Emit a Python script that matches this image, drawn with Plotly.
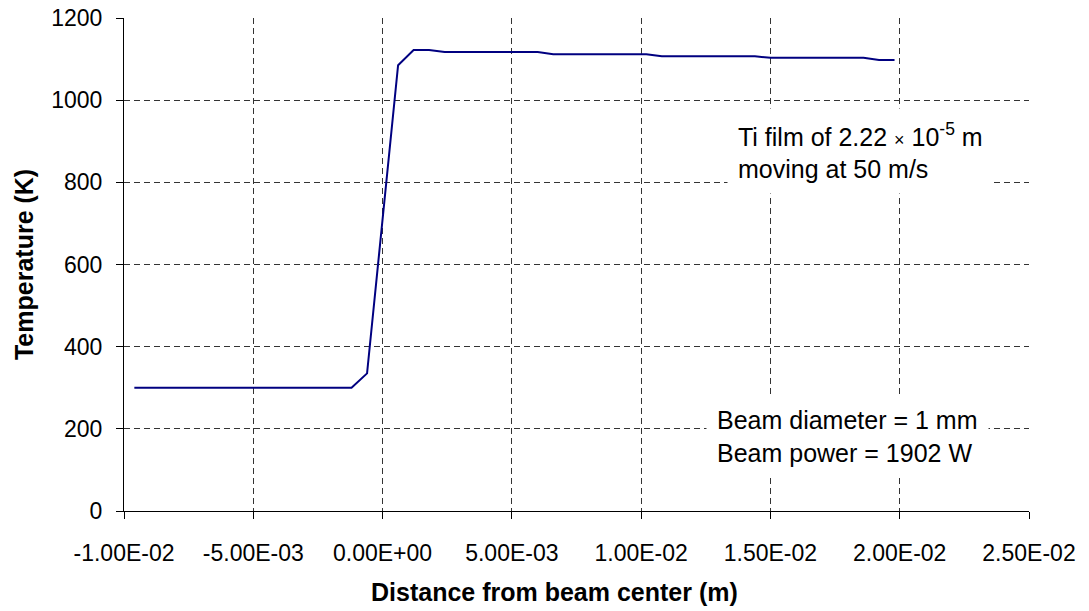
import plotly.graph_objects as go

# Position along the film (m), sampled every 0.6 mm
distance_m = [
    -9.6e-3, -9.0e-3, -8.4e-3, -7.8e-3, -7.2e-3, -6.6e-3, -6.0e-3, -5.4e-3,
    -4.8e-3, -4.2e-3, -3.6e-3, -3.0e-3, -2.4e-3, -1.8e-3, -1.2e-3, -0.6e-3,
    0.0, 0.6e-3, 1.2e-3, 1.8e-3, 2.4e-3, 3.0e-3, 3.6e-3, 4.2e-3, 4.8e-3,
    5.4e-3, 6.0e-3, 6.6e-3, 7.2e-3, 7.8e-3, 8.4e-3, 9.0e-3, 9.6e-3, 10.2e-3,
    10.8e-3, 11.4e-3, 12.0e-3, 12.6e-3, 13.2e-3, 13.8e-3, 14.4e-3, 15.0e-3,
    15.6e-3, 16.2e-3, 16.8e-3, 17.4e-3, 18.0e-3, 18.6e-3, 19.2e-3, 19.8e-3,
]

# Temperature of the film at each position (K)
temperature_k = [
    300, 300, 300, 300, 300, 300, 300, 300,
    300, 300, 300, 300, 300, 300, 300, 335,
    715, 1085, 1122, 1122, 1117, 1117, 1117, 1117, 1117,
    1117, 1117, 1112, 1112, 1112, 1112, 1112, 1112, 1112,
    1107, 1107, 1107, 1107, 1107, 1107, 1107, 1103,
    1103, 1103, 1103, 1103, 1103, 1103, 1098, 1098,
]

x_tick_values = [-1.0e-2, -5.0e-3, 0.0, 5.0e-3, 1.0e-2, 1.5e-2, 2.0e-2, 2.5e-2]
x_tick_labels = ["-1.00E-02", "-5.00E-03", "0.00E+00", "5.00E-03",
                 "1.00E-02", "1.50E-02", "2.00E-02", "2.50E-02"]
y_tick_values = [0, 200, 400, 600, 800, 1000, 1200]

FONT = "Liberation Sans, Arial, sans-serif"
GRID = dict(showgrid=True, gridcolor="#333333", gridwidth=1, griddash="6px,4px")

fig = go.Figure()
fig.add_trace(go.Scatter(
    x=distance_m, y=temperature_k, mode="lines",
    line=dict(color="#000080", width=2), showlegend=False,
))

fig.update_layout(
    width=1089, height=611,
    margin=dict(l=124, r=60, t=18, b=100),
    paper_bgcolor="white", plot_bgcolor="white",
    font=dict(family=FONT, size=23, color="black"),
    xaxis=dict(
        range=[-1.0e-2, 2.5e-2], tickvals=x_tick_values, ticktext=x_tick_labels,
        ticks="outside", ticklen=7, tickcolor="black", ticklabelstandoff=14,
        tickfont=dict(size=23), automargin=False,
        showline=True, linecolor="black", linewidth=1, zeroline=False,
        **GRID,
    ),
    yaxis=dict(
        range=[0, 1200], tickvals=y_tick_values,
        ticks="outside", ticklen=7, tickcolor="black", ticklabelstandoff=9,
        tickfont=dict(size=23), automargin=False,
        showline=True, linecolor="black", linewidth=1, zeroline=False,
        **GRID,
    ),
    annotations=[
        # axis titles
        dict(
            text="<b>Distance from beam center (m)</b>",
            xref="paper", yref="paper", x=0.476, y=-0.165, xanchor="center", yanchor="middle",
            showarrow=False, font=dict(family=FONT, size=25, color="black"),
        ),
        dict(
            text="<b>Temperature (K)</b>", textangle=-90,
            xref="paper", yref="paper", x=-0.111, y=0.5, xanchor="center", yanchor="middle",
            showarrow=False, font=dict(family=FONT, size=25, color="black"),
        ),
        # notes in the plot area
        dict(
            text="Ti film of 2.22 <span style='font-size:18px'>×</span> 10<sup>-5</sup> m<br>moving at 50 m/s",
            xref="paper", yref="paper", x=0.666, y=0.73, xanchor="left", yanchor="middle",
            align="left", showarrow=False, bgcolor="white", borderpad=10,
            font=dict(family=FONT, size=25, color="black"),
        ),
        dict(
            text="Beam diameter = 1 mm<br>Beam power = 1902 W",
            xref="paper", yref="paper", x=0.643, y=0.152, xanchor="left", yanchor="middle",
            align="left", showarrow=False, bgcolor="white", borderpad=10,
            font=dict(family=FONT, size=25, color="black"),
        ),
    ],
)

fig.write_html("out.html")
